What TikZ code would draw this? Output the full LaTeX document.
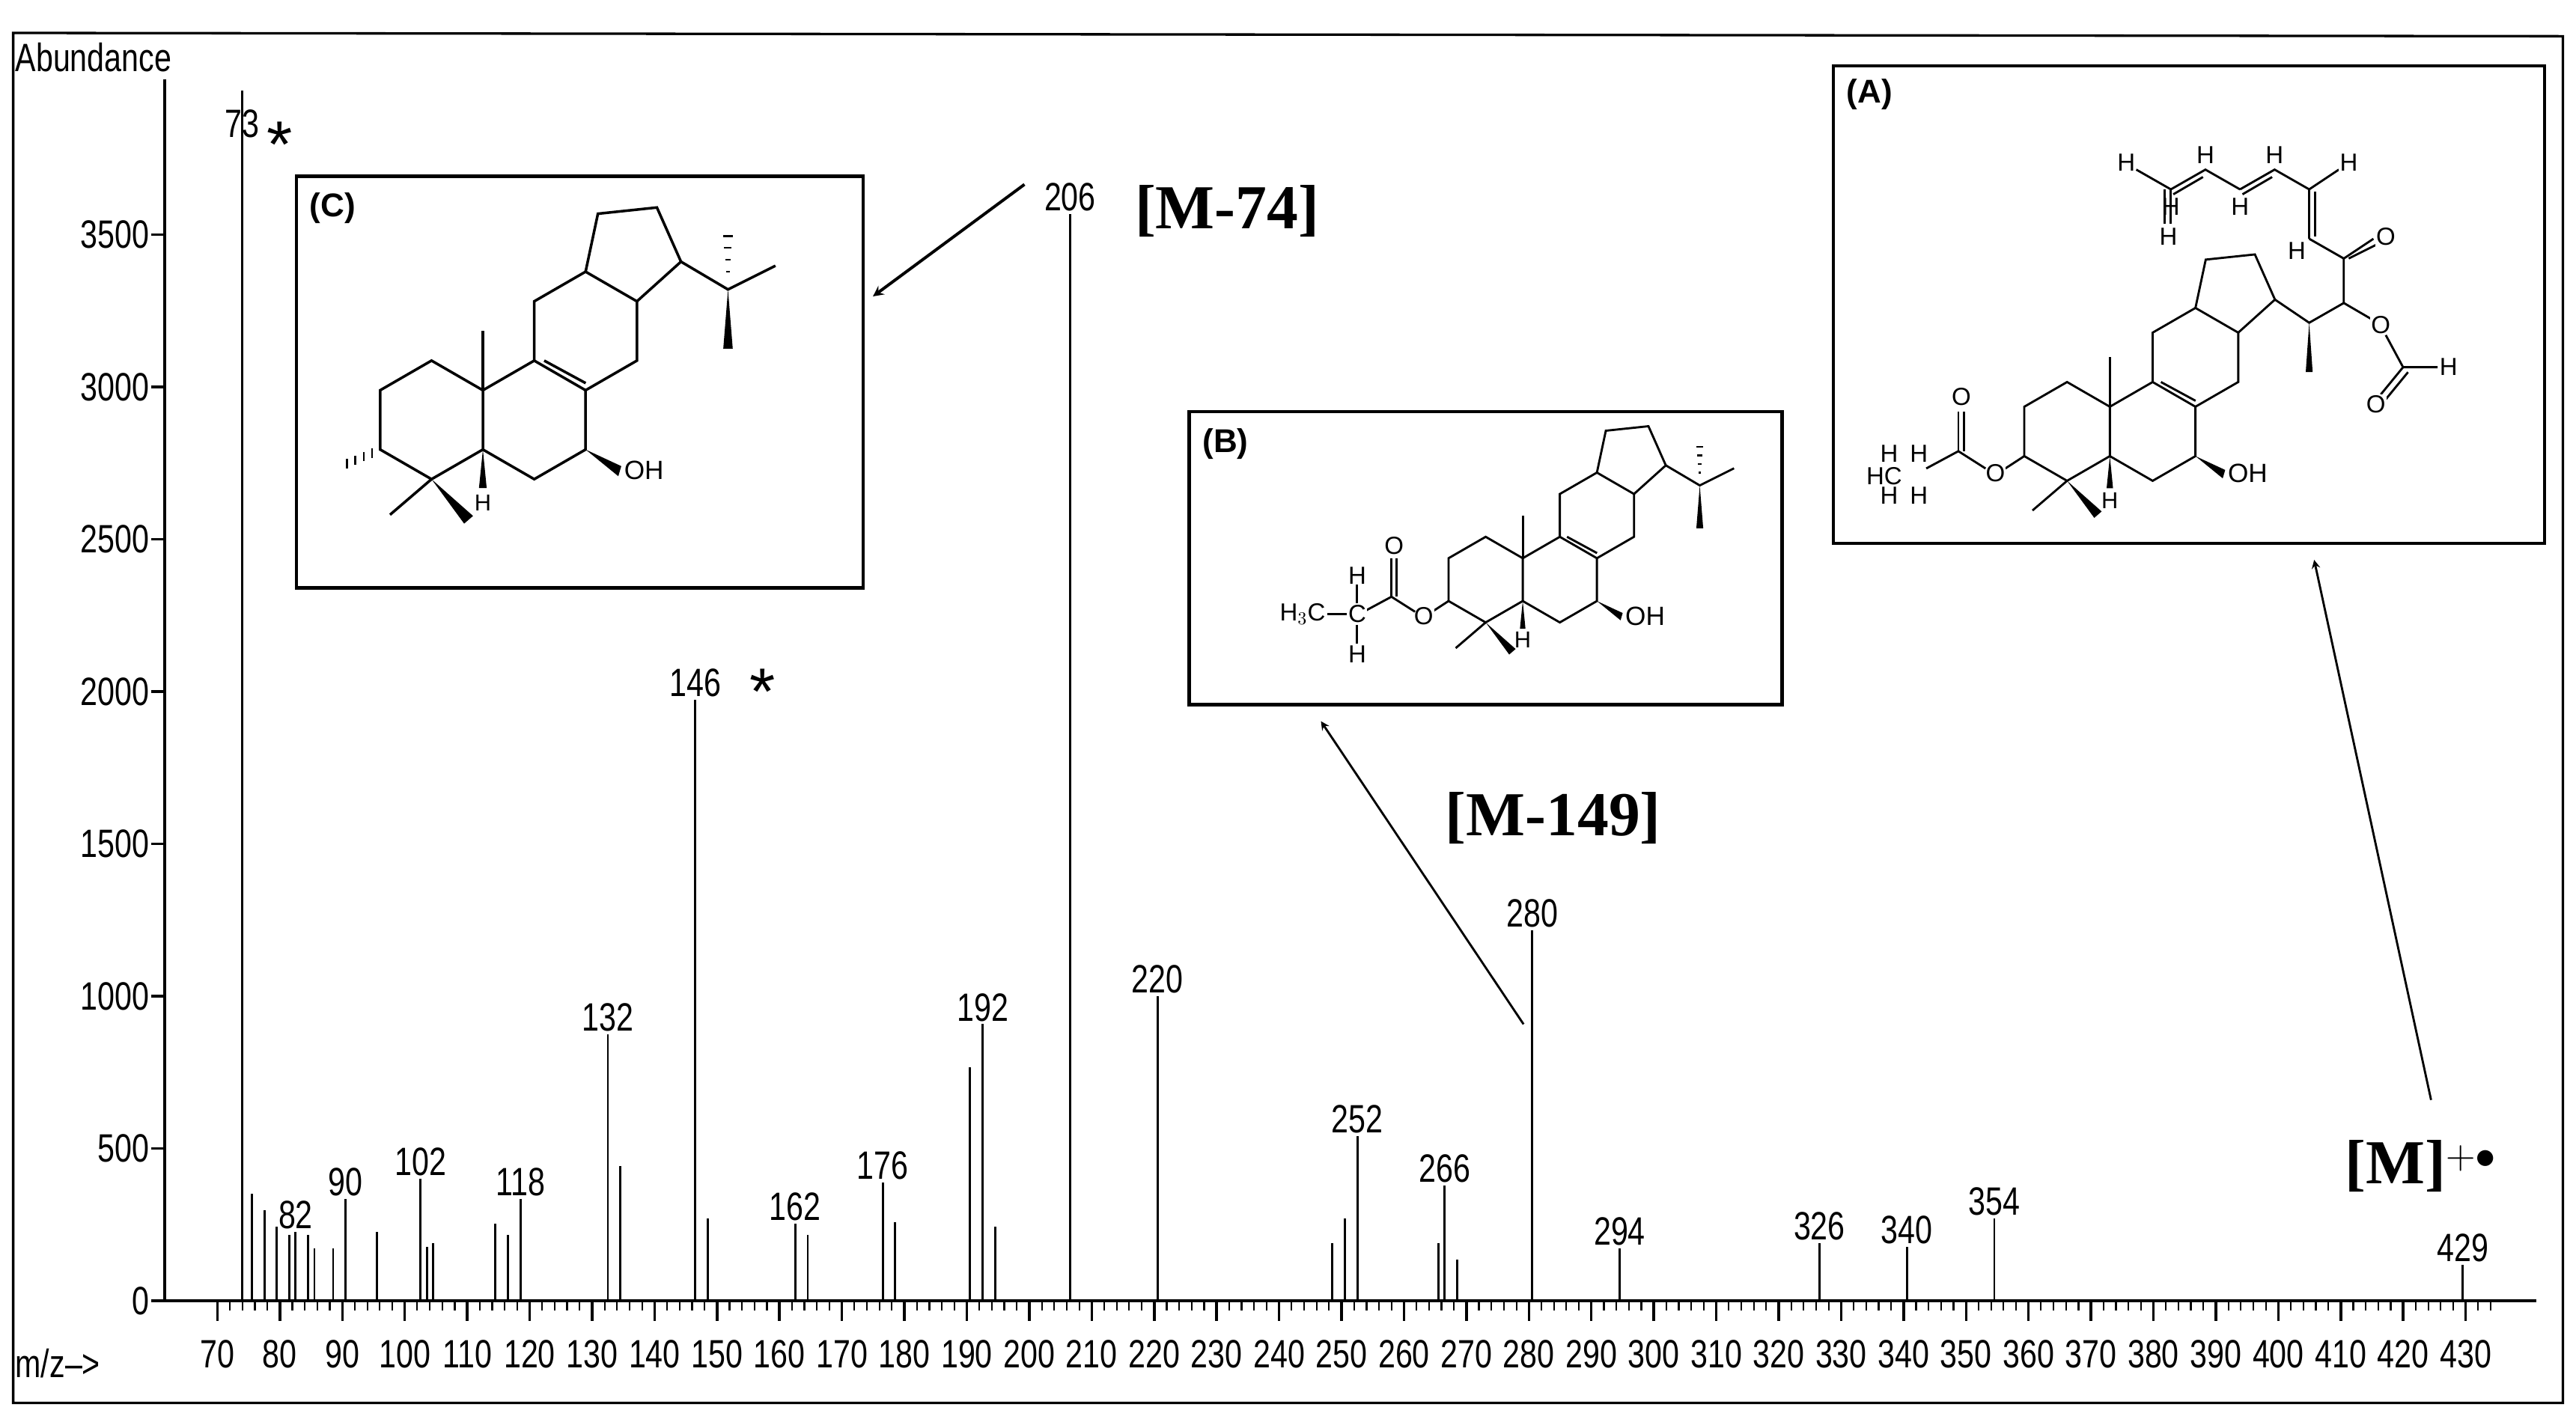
\documentclass[tikz,border=0pt]{standalone}
\usepackage{fontspec}
\setmainfont{Liberation Sans}
\newfontfamily\serifb{Liberation Serif}
\begin{document}
\begin{tikzpicture}[x=1pt,y=-1pt,line width=1.6pt,
 lab/.style={font=\fontsize{24}{24}\selectfont,xscale=0.78,inner sep=1pt},
 big/.style={font=\serifb\bfseries\fontsize{38}{38}\selectfont,inner sep=0pt},
 box/.style={draw,line width=2pt},
 atm/.style={font=\fontsize{15}{15}\selectfont,inner sep=0.5pt,fill=white},
 arr/.style={->,>=stealth,line width=1.8pt}]
\useasboundingbox (0,0) rectangle (1564,865);
\draw[line width=1.5pt] (8,20) -- (1556,22) -- (1556,852) -- (8,852) -- cycle;
% axes
\draw (100,48) -- (100,790) -- (1540,790);
\node[lab,anchor=west] at (8,35) {Abundance};
\node[lab,anchor=west] at (8,828) {m/z-->};
\foreach \v [count=\i from 0] in {0,500,1000,1500,2000,2500,3000,3500}{
  \draw (100,790-92.5*\i) -- (92,790-92.5*\i);
  \node[lab,anchor=east] at (92,790-92.5*\i) {\v};}
\foreach \m in {70,72,...,434}{\draw[line width=1pt] ({132+(\m-70)*3.7917},790) -- ({132+(\m-70)*3.7917},796);}
\foreach \m in {70,80,...,430}{\draw ({132+(\m-70)*3.7917},790) -- ({132+(\m-70)*3.7917},802);
  \node[lab,anchor=north] at ({132+(\m-70)*3.7917},812) {\m};}
% unlabeled peaks
\foreach \m/\t in {75/725,77/735,79/745,81/750,84/750,85/758,88/758,95/748,103/757,104/755,114/743,116/750,134/708,148/740,164/750,178/742,190/648,194/745,248/755,250/740,265/755,268/765}{
  \draw[line width=1.3pt] ({134+(\m-70)*3.7917},790) -- ({134+(\m-70)*3.7917},\t);}
% labeled peaks
\foreach \m/\t in {82/748,90/728,102/716,118/728,132/628,146/425,162/743,176/718,192/622,206/130,220/605,252/690,266/720,280/565,294/758,326/755,340/757,354/740,429/768}{
  \draw[line width=1.3pt] ({134+(\m-70)*3.7917},790) -- ({134+(\m-70)*3.7917},\t);
  \node[lab,anchor=south] (p\m) at ({134+(\m-70)*3.7917},\t) {\m};}
\draw[line width=1.3pt] (147,790) -- (147,55);
\node[lab] (p73) at (147,75) {73};
\node[font=\fontsize{40}{40}\selectfont] at (170,88) {*};
\node[font=\fontsize{40}{40}\selectfont] at (463,420) {*};
% boxes
\draw[box] (180,107) rectangle (524,357); \node[font=\bfseries\fontsize{20}{20}\selectfont,anchor=north west] at (184,113) {(C)};
\draw[box] (722,250) rectangle (1082,428); \node[font=\bfseries\fontsize{20}{20}\selectfont,anchor=north west] at (726,256) {(B)};
\draw[box] (1113,40) rectangle (1545,330); \node[font=\bfseries\fontsize{20}{20}\selectfont,anchor=north west] at (1117,44) {(A)};
% labels & arrows
\node[big] (m74) at (745,128) {[M-74]};
\node[big] (m149) at (943,497) {[M-149]};
\node[big] (mm) at (1470,708) {[M]$^{+\bullet}$};
\coordinate (c1) at (622,112); \coordinate (c2) at (530,180);
\draw[arr] (c1) -- (c2);
\coordinate (b1) at (925,622); \coordinate (b2) at (802,438);
\draw[arr,line width=1.3pt] (b1) -- (b2);
\coordinate (a1) at (1476,668); \coordinate (a2) at (1405,340);
\draw[arr,line width=1.3pt] (a1) -- (a2);
% steroid core macro
\newcommand\stcore{%
 \draw (0,1)--(0.866,0.5)--(0.866,-0.5)--(0,-1)--(-0.866,-0.5)--(-0.866,0.5)--cycle;
 \draw (0.866,0.5)--(1.732,1)--(2.598,0.5)--(2.598,-0.5)--(1.732,-1)--(0.866,-0.5);
 \draw (1.732,1)--(1.732,2)--(2.598,2.5)--(3.464,2)--(3.464,1)--(2.598,0.5);
 \draw (2.598,2.5)--(2.806,3.478)--(3.801,3.583)--(4.207,2.669)--(3.464,2);
 \draw (1.9,1.0)--(2.6,0.62);
 \draw (0.866,0.5)--(0.866,1.5);
 \fill (0.866,-0.5)--(0.80,-1.15)--(0.93,-1.15)--cycle;
 \node[font=\fontsize{14}{14}\selectfont,inner sep=0pt] at (0.866,-1.4) {H};
 \fill (2.598,-0.5)--(3.15,-0.95)--(3.2,-0.78)--cycle;
 \node[font=\fontsize{16}{16}\selectfont,anchor=west,inner sep=1pt] at (3.2,-0.85) {OH};
 \draw (0,-1)--(-0.7,-1.6);
 \fill (0,-1)--(0.55,-1.75)--(0.7,-1.62)--cycle;}
\newcommand\isoprop{%
 \draw (4.207,2.669)--(5.0,2.2)--(5.8,2.6);
 \fill (5.0,2.2)--(4.92,1.2)--(5.08,1.2)--cycle;
 \foreach \k in {0.3,0.5,0.7,0.9}{\draw[line width=1pt] (5.0-0.09*\k,2.2+\k) -- (5.0+0.09*\k,2.2+\k);}}
% (C)
\begin{scope}[shift={(262,255)},x=36pt,y=36pt]
 \stcore \isoprop
 \foreach \k in {0.2,0.4,0.6,0.8}{\draw[line width=1pt] (-0.866-0.7*\k,-0.5-0.3*\k+0.08) -- (-0.866-0.7*\k,-0.5-0.3*\k-0.08);}
\end{scope}
% (B)
\begin{scope}[shift={(902,352)},x=26pt,y=26pt,line width=1.3pt]
 \stcore \isoprop
 \draw (-0.866,-0.5)--(-1.25,-0.75);
 \node[atm] (oB) at (-1.45,-0.85) {O};
 \draw (-1.65,-0.75)--(-2.2,-0.4);
 \draw (-2.2,-0.4)--(-2.2,0.5); \draw (-2.08,-0.4)--(-2.08,0.5);
 \node[atm] at (-2.14,0.8) {O};
 \draw (-2.2,-0.4)--(-2.85,-0.75);
 \node[atm] at (-3.0,-0.8) {C};
 \draw (-3.0,-0.55)--(-3.0,-0.1); \node[atm] at (-3.0,0.1) {H};
 \draw (-3.0,-1.05)--(-3.0,-1.5); \node[atm] at (-3.0,-1.75) {H};
 \draw (-3.25,-0.8)--(-3.7,-0.8); \node[atm,anchor=east] at (-3.7,-0.8) {H$_3$C};
\end{scope}
% (A)
\begin{scope}[shift={(1255,262)},x=30pt,y=30pt,line width=1.3pt]
 \stcore
 \draw (4.207,2.669)--(4.9,2.2)--(5.6,2.6);
 \fill (4.9,2.2)--(4.83,1.2)--(4.97,1.2)--cycle;
 \draw (5.6,2.6)--(6.2,2.25); \node[atm] at (6.35,2.15) {O};
 \draw (6.45,1.95)--(6.8,1.3)--(7.5,1.3); \node[atm,anchor=west] at (7.5,1.3) {H};
 \draw (6.8,1.3)--(6.35,0.75); \draw (6.9,1.2)--(6.45,0.65); \node[atm] at (6.25,0.55) {O};
 \draw (5.6,2.6)--(5.6,3.5)--(6.2,3.9); \draw (5.7,3.5)--(6.3,3.8); \node[atm] at (6.45,3.95) {O};
 \draw (5.6,3.5)--(4.9,3.9); \node[atm] at (4.65,3.65) {H};
 \draw (4.9,3.9)--(4.9,4.9); \draw (5.02,3.95)--(5.02,4.85);
 \draw (4.9,4.9)--(5.5,5.3); \node[atm] at (5.7,5.45) {H};
 \draw (4.9,4.9)--(4.2,5.3)--(3.5,4.9); \draw (4.15,5.15)--(3.55,4.8);
 \node[atm] at (4.2,5.6) {H}; \node[atm] at (3.5,4.55) {H};
 \draw (3.5,4.9)--(2.8,5.3)--(2.1,4.9); \draw (2.75,5.15)--(2.15,4.8);
 \node[atm] at (2.8,5.6) {H}; \node[atm] at (2.1,4.55) {H};
 \draw (2.1,4.9)--(1.4,5.3); \draw (2.1,4.9)--(2.1,4.2); \draw (1.98,4.9)--(1.98,4.2);
 \node[atm] at (1.2,5.45) {H}; \node[atm] at (2.05,3.95) {H};
 \draw (-0.866,-0.5)--(-1.25,-0.75);
 \node[atm] at (-1.45,-0.85) {O};
 \draw (-1.65,-0.75)--(-2.2,-0.4);
 \draw (-2.2,-0.4)--(-2.2,0.4); \draw (-2.08,-0.4)--(-2.08,0.4);
 \node[atm] at (-2.14,0.7) {O};
 \draw (-2.2,-0.4)--(-2.85,-0.75);
 \node[atm] at (-3.0,-0.45) {H}; \node[atm] at (-3.0,-1.3) {H};
 \node[atm] at (-3.6,-0.45) {H}; \node[atm] at (-3.7,-0.9) {HC};
 \node[atm] at (-3.6,-1.3) {H};
\end{scope}
\end{tikzpicture}
\end{document}
